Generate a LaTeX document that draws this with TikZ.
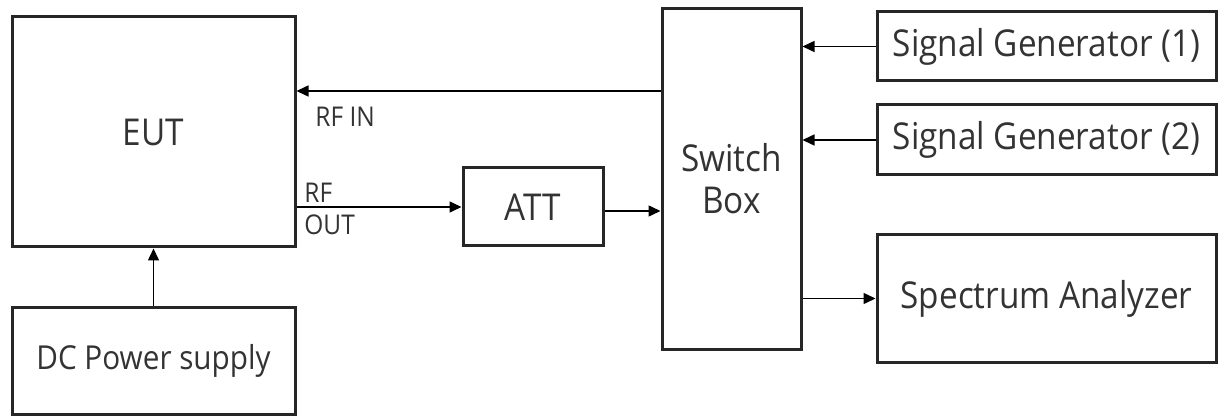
\documentclass[tikz,border=0pt]{standalone}
\usepackage{fontspec}
\setmainfont[FakeStretch=0.9]{Open Sans}
\usetikzlibrary{arrows.meta}
\begin{document}
\begin{tikzpicture}[x=0.5pt,y=-0.5pt,
  box/.style={draw=black!85, line width=1.5pt, rectangle, inner sep=0pt, font=\fontsize{18.5}{21}\selectfont, text=black!80, align=center},
  arr/.style={draw=black, line width=0.75pt, -{Triangle[length=6pt,width=5.5pt]}},
  lbl/.style={inner sep=0pt, anchor=west, font=\fontsize{13.6}{15}\selectfont, text=black!80}]
\useasboundingbox (0,0) rectangle (1218,416);
\node[box, minimum width=141.5pt, minimum height=115pt] (eut) at (153.5,132) {EUT};
\node[box, minimum width=141.5pt, minimum height=53.5pt, font=\fontsize{16.5}{18}\selectfont] (dc) at (153.5,360.5) {DC Power supply};
\node[box, minimum width=70pt, minimum height=39pt] (att) at (533,207) {ATT};
\node[box, minimum width=69.5pt, minimum height=170pt, font=\fontsize{18.5}{21}\selectfont] (sw) at (731.5,179) {Switch\\Box};
\node[box, minimum width=169.5pt, minimum height=34.5pt] (sg1) at (1046.5,46.5) {Signal Generator (1)};
\node[box, minimum width=169.5pt, minimum height=35pt] (sg2) at (1046.5,140) {Signal Generator (2)};
\node[box, minimum width=169.5pt, minimum height=63.5pt] (sa) at (1046.5,298.5) {Spectrum Analyzer};
\coordinate (rfin) at (0,91);
\coordinate (attout) at ([yshift=-2pt]att.east);
\draw[arr] (sw.west |- rfin) -- (eut.east |- rfin);
\draw[arr] (eut.east |- att.west) -- (att.west);
\draw[arr] (attout) -- (sw.west |- attout);
\draw[arr] (sg1.west) -- (sw.east |- sg1.west);
\draw[arr] (sg2.west) -- (sw.east |- sg2.west);
\draw[arr] (sw.east |- sa.west) -- (sa.west);
\draw[arr] (dc.north) -- (eut.south);
\node[lbl] (lrfin) at (315,117) {RF IN};
\node[lbl] (lrf) at (304,193) {RF};
\node[lbl] (lout) at (304,225) {OUT};
\end{tikzpicture}
\end{document}
